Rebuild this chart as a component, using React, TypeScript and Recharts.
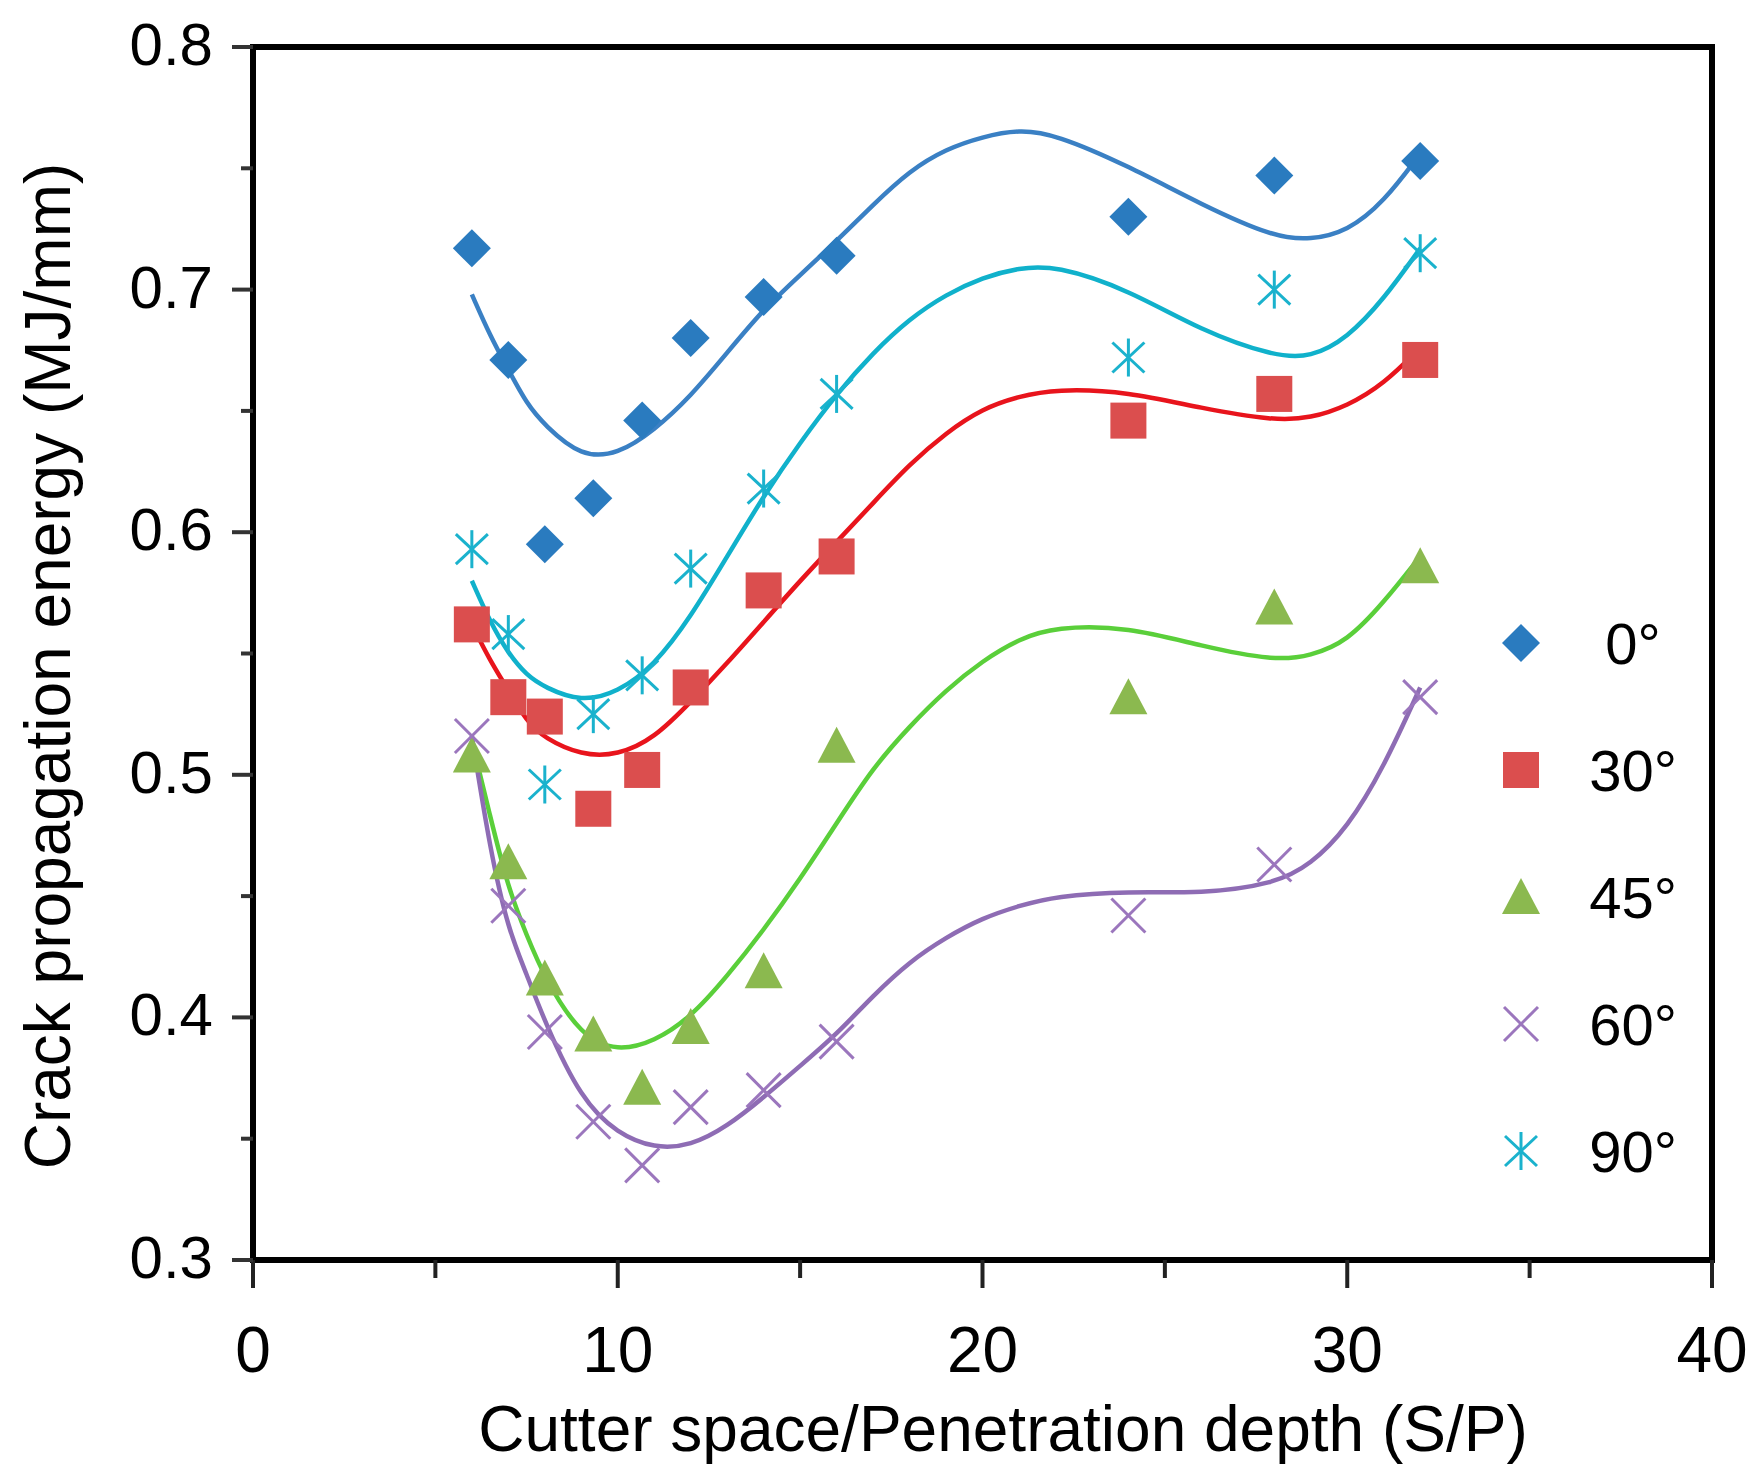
import React from 'react';
import { ComposedChart, Scatter, Line, XAxis, YAxis, ReferenceArea } from 'recharts';

// S/P values of the measured points
const spacing = [6, 7, 8, 9.33, 10.67, 12, 14, 16, 24, 28, 32];

// measured crack propagation energy (MJ/mm) per cutting angle
const energy0 = [0.717, 0.671, 0.595, 0.614, 0.646, 0.68, 0.697, 0.714, 0.73, 0.747, 0.753];
const energy30 = [0.562, 0.532, 0.524, 0.486, 0.502, 0.536, 0.576, 0.59, 0.646, 0.657, 0.671];
const energy45 = [0.508, 0.464, 0.416, 0.393, 0.371, 0.396, 0.419, 0.512, 0.532, 0.569, 0.586];
const energy60 = [0.516, 0.446, 0.394, 0.357, 0.339, 0.363, 0.37, 0.39, 0.442, 0.463, 0.532];
const energy90 = [0.593, 0.558, 0.496, 0.525, 0.541, 0.585, 0.618, 0.657, 0.672, 0.7, 0.715];

// fitted curves
const fitX = [6, 6.5, 7, 7.5, 8, 9, 10, 11, 12, 13, 14, 15, 16, 17, 18, 19, 20, 21, 22, 24, 26, 28, 29, 30, 31, 32];
const fit0 = [0.698, 0.681, 0.667, 0.653, 0.644, 0.631, 0.632, 0.642, 0.656, 0.674, 0.692, 0.706, 0.72, 0.735, 0.749, 0.758, 0.763, 0.766, 0.764, 0.751, 0.735, 0.7215, 0.7205, 0.724, 0.736, 0.756];
const fit30 = [0.562, 0.547, 0.535, 0.522, 0.515, 0.508, 0.508, 0.515, 0.53, 0.546, 0.563, 0.58, 0.596, 0.612, 0.628, 0.641, 0.651, 0.656, 0.659, 0.658, 0.651, 0.646, 0.647, 0.652, 0.661, 0.676];
const fit45 = [0.514, 0.483, 0.453, 0.434, 0.416, 0.392, 0.386, 0.39, 0.4, 0.417, 0.436, 0.457, 0.48, 0.503, 0.52, 0.535, 0.547, 0.556, 0.561, 0.561, 0.553, 0.547, 0.549, 0.555, 0.571, 0.59];
const fit60 = [0.516, 0.469, 0.436, 0.418, 0.398, 0.366, 0.352, 0.346, 0.347, 0.355, 0.367, 0.38, 0.393, 0.409, 0.423, 0.433, 0.441, 0.446, 0.45, 0.452, 0.451, 0.455, 0.463, 0.478, 0.503, 0.536];
const fit90 = [0.58, 0.563, 0.55, 0.541, 0.536, 0.53, 0.534, 0.545, 0.565, 0.59, 0.615, 0.637, 0.657, 0.674, 0.688, 0.698, 0.705, 0.709, 0.71, 0.7, 0.683, 0.6725, 0.672, 0.68, 0.696, 0.717];

const xTicks = [0, 5, 10, 15, 20, 25, 30, 35, 40];
const yTicks = [0.3, 0.35, 0.4, 0.45, 0.5, 0.55, 0.6, 0.65, 0.7, 0.75, 0.8];
const angleLabels = ['0°', '30°', '45°', '60°', '90°'];

const FONT = '"Liberation Sans", Arial, sans-serif';

const toPoints = (xs: number[], ys: number[]) => xs.map((x, i) => ({ x, y: ys[i] }));

const Diamond = ({ cx, cy }: any) => (
  <polygon points={`${cx},${cy - 19} ${cx + 19},${cy} ${cx},${cy + 19} ${cx - 19},${cy}`} fill="#2a7bbf" />
);
const Square = ({ cx, cy }: any) => <rect x={cx - 18} y={cy - 18} width={36} height={36} fill="#db4e4e" />;
const Triangle = ({ cx, cy }: any) => (
  <polygon points={`${cx},${cy - 19} ${cx + 19},${cy + 17} ${cx - 19},${cy + 17}`} fill="#8bb94f" />
);
const Cross = ({ cx, cy }: any) => (
  <g stroke="#9b76bd" strokeWidth={3}>
    <line x1={cx - 17} y1={cy - 17} x2={cx + 17} y2={cy + 17} />
    <line x1={cx - 17} y1={cy + 17} x2={cx + 17} y2={cy - 17} />
  </g>
);
const Star = ({ cx, cy }: any) => (
  <g stroke="#1ab2cd" strokeWidth={3}>
    <line x1={cx} y1={cy - 19} x2={cx} y2={cy + 19} />
    <line x1={cx - 16} y1={cy - 15} x2={cx + 16} y2={cy + 15} />
    <line x1={cx - 16} y1={cy + 15} x2={cx + 16} y2={cy - 15} />
  </g>
);

const markers = [Diamond, Square, Triangle, Cross, Star];

const XTick = (props: any) => {
  const { x, y, payload } = props;
  const v = payload.value;
  const major = v % 10 === 0;
  return (
    <g>
      <line x1={x} y1={y} x2={x} y2={y + (major ? 28 : 18)} stroke="#222" strokeWidth={4} />
      {major && (
        <text x={x} y={y + 112} textAnchor="middle" fontSize={64} fill="#000" fontFamily={FONT}>
          {v}
        </text>
      )}
    </g>
  );
};

const YTick = (props: any) => {
  const { x, y, payload } = props;
  const v = payload.value;
  const major = Math.round(v * 100) % 10 === 0;
  return (
    <g>
      <line x1={x} y1={y} x2={x - (major ? 21 : 12)} y2={y} stroke="#333" strokeWidth={4} />
      {major && (
        <text x={x - 40} y={y + 18} textAnchor="end" fontSize={60} fill="#000" fontFamily={FONT}>
          {v.toFixed(1)}
        </text>
      )}
    </g>
  );
};

// axis titles and legend, in chart pixel coordinates
const Annotations = () => (
  <g fontFamily={FONT} fill="#000">
    <text x={995} y={1443} textAnchor="middle" fontSize={64}>
      Cutter space/Penetration depth (S/P)
    </text>
    <text x={62} y={658} transform="rotate(-90, 62, 658)" textAnchor="middle" fontSize={64}>
      Crack propagation energy (MJ/mm)
    </text>
    {angleLabels.map((label, i) => {
      const M = markers[i];
      const cy = 635 + i * 127;
      return (
        <g key={label}>
          <M cx={1513} cy={cy} />
          <text x={1625} y={cy + 21} textAnchor="middle" fontSize={58}>
            {label}
          </text>
        </g>
      );
    })}
  </g>
);

const measured = [energy0, energy30, energy45, energy60, energy90];
const fits = [fit0, fit30, fit45, fit60, fit90];
const lineColors = ['#3a80c4', '#e8141c', '#5acf3a', '#8e6cb4', '#10b1cb'];

export default function App() {
  return (
    <ComposedChart width={1756} height={1476} margin={{ top: 39, right: 52, bottom: 0, left: 0 }}>
      <XAxis
        type="number"
        dataKey="x"
        domain={[0, 40]}
        ticks={xTicks}
        interval={0}
        height={224}
        tickSize={0}
        tickMargin={0}
        tickLine={false}
        axisLine={false}
        tick={<XTick />}
      />
      <YAxis
        type="number"
        dataKey="y"
        domain={[0.3, 0.8]}
        ticks={yTicks}
        interval={0}
        width={245}
        tickSize={0}
        tickMargin={0}
        tickLine={false}
        axisLine={false}
        tick={<YTick />}
      />
      {measured.map((ys, i) => {
        const M = markers[i];
        return (
          <Scatter
            key={`s${i}`}
            data={toPoints(spacing, ys)}
            dataKey="y"
            shape={(p: any) => <M cx={p.cx} cy={p.cy} />}
            isAnimationActive={false}
          />
        );
      })}
      {fits.map((ys, i) => (
        <Line
          key={`l${i}`}
          data={toPoints(fitX, ys)}
          dataKey="y"
          type="basis"
          stroke={lineColors[i]}
          strokeWidth={4.5}
          dot={false}
          activeDot={false}
          isAnimationActive={false}
        />
      ))}
      <ReferenceArea x1={0} x2={40} y1={0.3} y2={0.8} fill="none" stroke="#000" strokeWidth={6} ifOverflow="visible" />
      <Annotations />
    </ComposedChart>
  );
}
